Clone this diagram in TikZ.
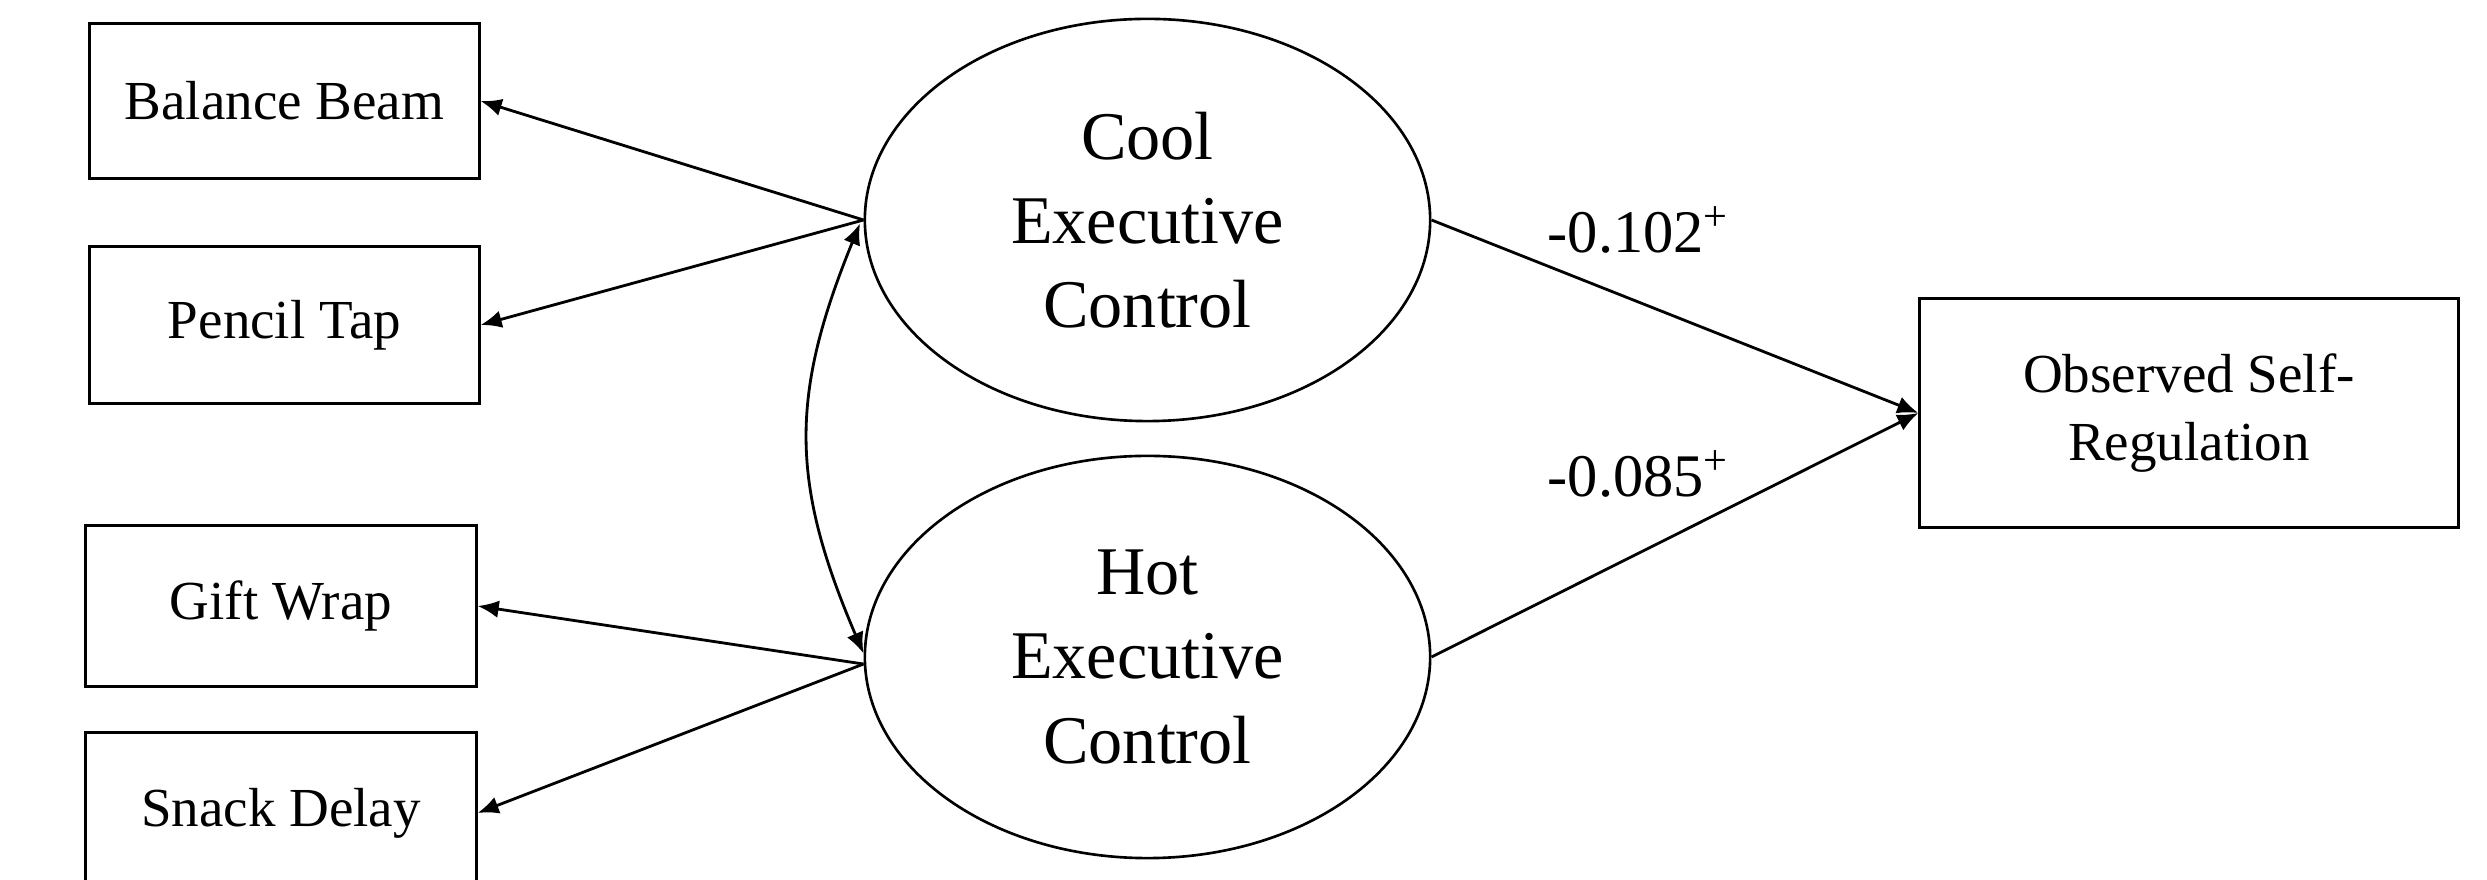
\documentclass[tikz,border=0pt]{standalone}
\usepackage{fontspec}
\setmainfont{Liberation Serif}
\usetikzlibrary{shapes.geometric,arrows.meta}
\tikzset{
  obsbox/.style={draw, line width=0.85pt, rectangle, inner sep=0pt, align=center,
    font=\fontsize{15.65pt}{19.3pt}\selectfont},
  latent/.style={draw, line width=0.75pt, ellipse, inner sep=0pt, align=center,
    minimum width=5.65cm, minimum height=4.02cm,
    font=\fontsize{19.4pt}{23.9pt}\selectfont},
  arr/.style={line width=0.8pt, -{Latex[length=6pt,width=5pt]}},
  darr/.style={line width=0.8pt, {Latex[length=6pt,width=5pt]}-{Latex[length=6pt,width=5pt]}},
  coef/.style={anchor=base west, inner sep=0pt, font=\fontsize{17.2pt}{20pt}\selectfont}
}
\begin{document}
\begin{tikzpicture}[x=0.01cm, y=-0.01cm]
\useasboundingbox (0,0) rectangle (2487,880);
\clip (0,0) rectangle (2487,880);
\fill[white] (0,0) rectangle (2487,880);

\node[obsbox, minimum width=3.89cm, minimum height=1.54cm] (bb) at (284.5,101) {Balance Beam};
\node[obsbox, minimum width=3.89cm, minimum height=1.56cm] (pt) at (284.5,325) {Pencil Tap};
\node[obsbox, minimum width=3.90cm, minimum height=1.60cm] (gw) at (281,606) {Gift Wrap};
\node[obsbox, minimum width=3.90cm, minimum height=1.60cm] (sd) at (281,813) {Snack Delay};
\node[obsbox, minimum width=5.38cm, minimum height=2.28cm] (obs) at (2189,413) {Observed Self-\\Regulation};

\node[latent] (cool) at (1147.5,220) {Cool\\Executive\\Control};
\node[latent] (hot) at (1147.5,657) {Hot\\Executive\\Control};

\draw[arr] (cool.west) -- (bb.east);
\draw[arr] (cool.west) -- (pt.east);
\draw[arr] ([yshift=-2pt]hot.west) -- (gw.east);
\draw[arr] ([yshift=-2pt]hot.west) -- (sd.east);

\draw[darr] ([xshift=-1pt,yshift=-1pt]cool.west) .. controls (790,395) and (790,482) .. ([yshift=1pt]hot.west);

\draw[arr] (cool.east) -- (obs.west);
\draw[arr] (hot.east) -- (obs.west);

\node[coef] (c1) at (1547,253) {-0.102\textsuperscript{+}};
\node[coef] (c2) at (1547,497) {-0.085\textsuperscript{+}};
\end{tikzpicture}
\end{document}
